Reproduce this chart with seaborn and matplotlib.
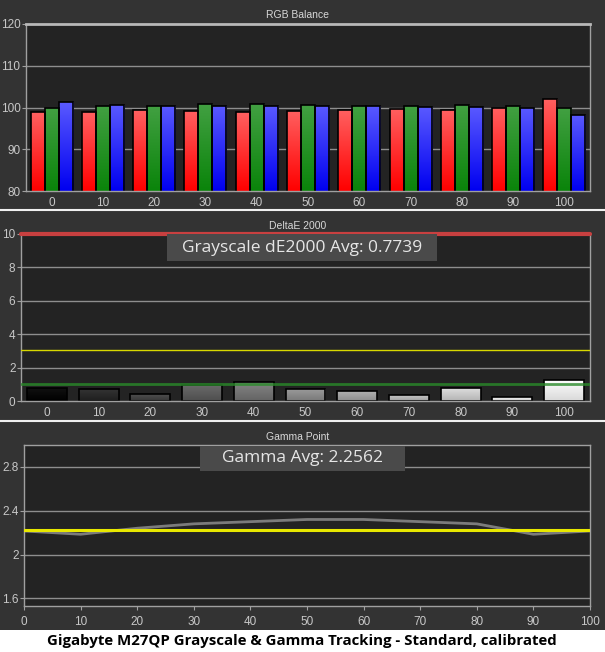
import numpy as np
import pandas as pd
import matplotlib
matplotlib.use("Agg")
import matplotlib.pyplot as plt
import seaborn as sns
from matplotlib.patches import Rectangle
from matplotlib.lines import Line2D
from matplotlib.colors import to_rgb

# data
levels = [0, 10, 20, 30, 40, 50, 60, 70, 80, 90, 100]
red_vals = [98.9, 98.9, 99.4, 99.2, 98.9, 99.2, 99.4, 99.7, 99.4, 99.9, 102.1]
green_vals = [100.0, 100.4, 100.4, 100.9, 100.9, 100.6, 100.4, 100.4, 100.6, 100.4, 99.9]
blue_vals = [101.4, 100.6, 100.4, 100.4, 100.4, 100.4, 100.4, 100.2, 100.2, 99.9, 98.3]
de_vals = [0.78, 0.74, 0.42, 0.97, 1.12, 0.74, 0.61, 0.36, 0.80, 0.21, 1.28]
gamma_vals = [2.215, 2.185, 2.24, 2.28, 2.30, 2.32, 2.32, 2.30, 2.28, 2.185, 2.215]
gamma_target = 2.22
de_limit_red = 10.0
de_limit_yellow = 3.08
de_limit_green = 1.0
de_avg_text = "Grayscale dE2000 Avg: 0.7739"
gamma_avg_text = "Gamma Avg: 2.2562"
caption = "Gigabyte M27QP Grayscale & Gamma Tracking - Standard, calibrated"

W, H = 605, 652
BG = "#333333"
AX_BG = "#232323"
TXT = "#c8c8c8"
GRID = "#8e8e8e"

sns.set_theme(style="dark")
plt.rcParams["font.family"] = ["Liberation Sans", "DejaVu Sans"]

fig = plt.figure(figsize=(W / 100, H / 100), dpi=100, facecolor=BG)


def px_axes(left, top, right, bottom):
    return fig.add_axes([left / W, 1 - bottom / H, (right - left) / W, (bottom - top) / H])


def style_axes(ax):
    ax.set_facecolor(AX_BG)
    ax.grid(False)
    for s in ax.spines.values():
        s.set_color("#a0a0a0")
        s.set_linewidth(1.0)
    ax.tick_params(axis="both", colors="#a0a0a0", labelcolor=TXT, labelsize=8.5,
                   length=3, width=0.8, pad=1, direction="out")
    ax.tick_params(axis="y", left=True)
    ax.tick_params(axis="x", bottom=True)
    ax.set_xlabel("")
    ax.set_ylabel("")


def gradient_bars(ax, patches, tops, bottoms, ylo):
    for p, ctop, cbot in zip(patches, tops, bottoms):
        x, y = p.get_x(), p.get_y()
        w, h = p.get_width(), p.get_height()
        y0 = max(y, ylo)
        y1 = y + h
        t = np.linspace(0, 1, 64)[:, None]
        img = (1 - t) * np.array(to_rgb(cbot)) + t * np.array(to_rgb(ctop))
        im = ax.imshow(img[:, None, :], extent=[x, x + w, y0, y1], origin="lower",
                       aspect="auto", zorder=p.get_zorder() + 0.05, interpolation="bilinear")
        im.set_clip_path(p)
        p.set_facecolor("none")
        p.set_edgecolor("black")
        p.set_linewidth(1.2)
        p.set_zorder(p.get_zorder() + 0.1)


def category_ticks(ax, n):
    ax.set_xticks(range(n))
    ax.set_xticklabels([str(v) for v in levels])
    ax.set_xticks(np.arange(-0.5, n, 1.0), minor=True)
    ax.tick_params(axis="x", which="major", length=0, pad=4)
    ax.tick_params(axis="x", which="minor", length=3, color="#a0a0a0", width=0.8)
    ax.set_xlim(-0.5, n - 0.5)


# ---------------- RGB balance ----------------
ax1 = px_axes(26, 24, 590, 191)
rgb_df = pd.DataFrame({
    "level": [str(v) for v in levels] * 3,
    "channel": ["R"] * len(levels) + ["G"] * len(levels) + ["B"] * len(levels),
    "value": red_vals + green_vals + blue_vals,
})
sns.barplot(data=rgb_df, x="level", y="value", hue="channel", hue_order=["R", "G", "B"],
            palette=["#ff0000", "#109010", "#0000ff"], width=0.82, legend=False, ax=ax1,
            order=[str(v) for v in levels])
style_axes(ax1)
ax1.set_ylim(80, 120)
ax1.set_yticks([80, 90, 100, 110, 120])
for yv in [90, 100, 110]:
    ax1.axhline(yv, color=GRID, lw=1.0, zorder=0.5)
bars = [p for p in ax1.patches if p.get_height() > 0]
n = len(levels)
tops, bots = [], []
for i, p in enumerate(bars):
    ch = i // n
    tops.append(["#ff6060", "#42a042", "#5a5aff"][ch])
    bots.append(["#ff0000", "#0a840a", "#0000f0"][ch])
gradient_bars(ax1, bars, tops, bots, 80)
category_ticks(ax1, n)
ax1.set_ylim(80, 120)
ax1.spines["top"].set_color("#b8b8b8")
ax1.spines["top"].set_linewidth(2.0)
fig.text(298 / W, 1 - 15 / H, "RGB Balance", color="#d8d8d8", fontsize=7.5, ha="center", va="center")

# ---------------- DeltaE 2000 ----------------
ax2 = px_axes(21, 234, 590, 401)
de_df = pd.DataFrame({"level": [str(v) for v in levels], "dE": de_vals})
sns.barplot(data=de_df, x="level", y="dE", color="#888888", width=0.77, ax=ax2,
            order=[str(v) for v in levels])
style_axes(ax2)
ax2.set_ylim(0, 10)
ax2.set_yticks([0, 2, 4, 6, 8, 10])
for yv in [2, 4, 6, 8]:
    ax2.axhline(yv, color=GRID, lw=1.0, zorder=0.5)
grays = np.linspace(0.0, 1.0, n) ** 0.85
tops, bots = [], []
for g in grays:
    top = min(1.0, 0.07 + g * 0.98)
    bot = max(0.0, g * 0.85)
    tops.append((top, top, top))
    bots.append((bot, bot, bot))
gradient_bars(ax2, list(ax2.patches), tops, bots, 0)
category_ticks(ax2, n)
ax2.set_ylim(0, 10)
ax2.axhline(de_limit_yellow, color="#d8d800", lw=1.0, zorder=3)
ax2.axhline(de_limit_green, color="#2a8a2a", lw=2.0, alpha=0.8, zorder=3)
ax2.axhline(de_limit_red, color="#c84040", lw=3.0, zorder=3, clip_on=False)
ax2.spines["top"].set_visible(False)
fig.text(298 / W, 1 - 226 / H, "DeltaE 2000", color="#d8d8d8", fontsize=7.5, ha="center", va="center")
fig.add_artist(Rectangle((167 / W, 1 - 261 / H), 270 / W, 27 / H, transform=fig.transFigure,
                         facecolor="#4a4a4a", edgecolor="none", zorder=5))
fig.text(302 / W, 1 - 248 / H, de_avg_text, color="#e6e6e6", fontsize=12.5,
         family=["Open Sans", "DejaVu Sans"], ha="center", va="center", zorder=6)

# ---------------- Gamma point ----------------
ax3 = px_axes(24, 445, 590, 606)
gamma_df = pd.DataFrame({"level": levels, "gamma": gamma_vals})
sns.lineplot(data=gamma_df, x="level", y="gamma", color="#7c7c7c", lw=2.0, ax=ax3, zorder=2)
style_axes(ax3)
ax3.axhline(gamma_target, color="#e8e800", lw=2.2, zorder=3)
ax3.set_xlim(0, 100)
ax3.set_xticks(levels)
ax3.set_ylim(1.53, 3.0)
ax3.set_yticks([1.6, 2.0, 2.4, 2.8])
ax3.set_yticklabels(["1.6", "2", "2.4", "2.8"])
for yv in [1.6, 2.0, 2.4, 2.8]:
    ax3.axhline(yv, color=GRID, lw=1.0, zorder=0.5)
ax3.tick_params(axis="x", pad=4)
fig.text(298 / W, 1 - 437 / H, "Gamma Point", color="#d8d8d8", fontsize=7.5, ha="center", va="center")
fig.add_artist(Rectangle((200 / W, 1 - 471 / H), 205 / W, 25 / H, transform=fig.transFigure,
                         facecolor="#4a4a4a", edgecolor="none", zorder=5))
fig.text(302 / W, 1 - 458 / H, gamma_avg_text, color="#e6e6e6", fontsize=12.5,
         family=["Open Sans", "DejaVu Sans"], ha="center", va="center", zorder=6)

# separators and caption strip
for yy in [209.5, 420.5]:
    fig.add_artist(Line2D([0, 1], [1 - yy / H] * 2, transform=fig.transFigure,
                          color="#f0f0f0", lw=1.5))
fig.add_artist(Rectangle((0, 0), 1, 22 / H, transform=fig.transFigure,
                         facecolor="white", edgecolor="none", zorder=1))
fig.text(302 / W, 1 - 641 / H, caption, color="black", fontsize=10.8, fontweight="bold",
         family=["Open Sans", "DejaVu Sans"], ha="center", va="center", zorder=2)

fig.savefig("out.png", dpi=100, facecolor=BG)
